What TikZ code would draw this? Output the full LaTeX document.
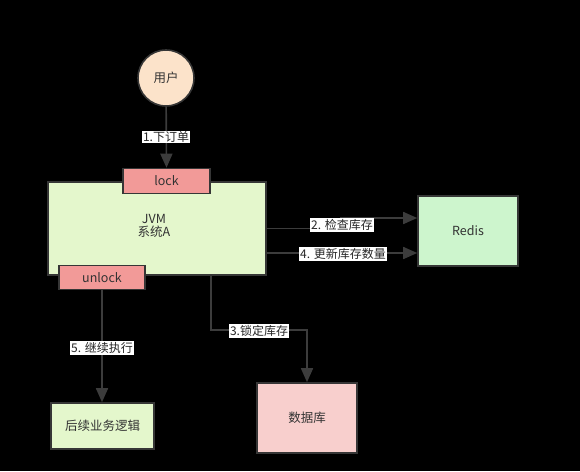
\documentclass[tikz,border=0pt]{standalone}
\usepackage{fontspec}
\setmainfont{Noto Sans CJK SC}
\usetikzlibrary{arrows.meta}
\definecolor{bordc}{HTML}{363636}
\definecolor{linec}{HTML}{3C3C3C}
\definecolor{txtc}{HTML}{333333}
\definecolor{userfill}{HTML}{FCE3CA}
\definecolor{jvmfill}{HTML}{E4F7CC}
\definecolor{lockfill}{HTML}{F29A98}
\definecolor{redisfill}{HTML}{CDF5CD}
\definecolor{dbfill}{HTML}{F8CFCD}
\tikzset{
  box/.style={draw=bordc, line width=1.6pt, rectangle, text=txtc, font=\fontsize{12.5}{15}\selectfont, align=center, inner sep=0pt},
  conn/.style={draw=linec, line width=1.6pt, -{Triangle[length=14pt,width=12pt]}},
  lbl/.style={fill=white, text=black!85, inner sep=1pt, font=\fontsize{12}{14}\selectfont}
}
\begin{document}
\begin{tikzpicture}[x=1pt,y=-1pt]
\fill[black] (0,0) rectangle (580,471);
\useasboundingbox (0,0) rectangle (580,471);

\node[box, circle, fill=userfill, minimum size=56pt] (user) at (166,78) {用户};
\node[box, fill=jvmfill, minimum width=218pt, minimum height=93pt] (jvm) at (157,228.5) {};
\node[text=txtc, font=\fontsize{12.5}{15}\selectfont, align=center] (jvmtxt) at (154,226) {JVM\\[-2pt]系统A};
\node[box, fill=lockfill, minimum width=87pt, minimum height=25pt] (lock) at (166.5,181) {lock};
\node[box, fill=lockfill, minimum width=86pt, minimum height=24pt] (unlock) at (102,277.5) {unlock};
\node[box, fill=redisfill, minimum width=100pt, minimum height=70pt] (redis) at (468,231) {Redis};
\node[box, fill=dbfill, minimum width=100pt, minimum height=70pt] (db) at (307,418) {数据库};
\node[box, fill=jvmfill, minimum width=103pt, minimum height=46pt] (next) at (102.5,426) {后续业务逻辑};

\draw[conn] (user) -- (lock.north);
\node[lbl] (l1) at (166,137) {1.下订单};

\draw[conn] (jvm.east) -- ++(74pt,0) |- ([yshift=13pt]redis.west);
\node[lbl] (l2) at (342,225) {2. 检查库存};

\draw[conn] ([yshift=-24.5pt]jvm.east) -- ([yshift=-22pt]redis.west);
\node[lbl] (l4) at (343,254) {4. 更新库存数量};

\draw[conn] ([xshift=54pt]jvm.south) -- ++(0,-54pt) -| (db.north);
\node[lbl] (l3) at (259,331) {3.锁定库存};

\draw[conn] (unlock.south) -- (unlock.south |- next.north);
\node[lbl] (l5) at (102,348) {5. 继续执行};
\end{tikzpicture}
\end{document}
